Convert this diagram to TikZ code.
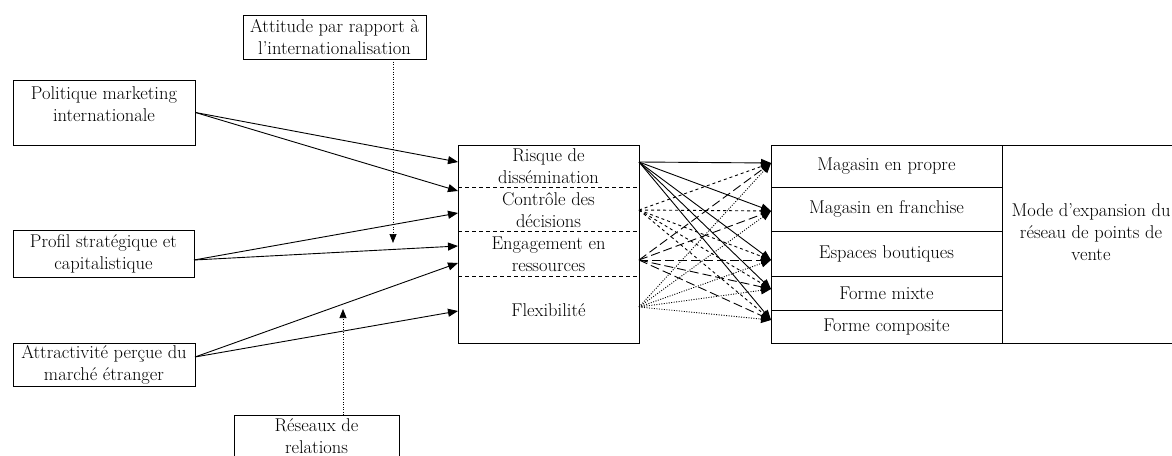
\documentclass[tikz,border=0pt]{standalone}
\usetikzlibrary{arrows.meta}
\begin{document}
\begin{tikzpicture}[x=1pt,y=-1pt,
  font=\fontsize{18.5}{22}\selectfont,
  box/.style={draw, line width=1pt, inner sep=0pt, align=center},
  lbl/.style={inner sep=0pt, align=center},
  arr/.style={line width=0.9pt, -{Triangle[length=10pt,width=8pt]}},
  sdash/.style={arr, dash pattern=on 3pt off 3pt},
  ldash/.style={arr, dash pattern=on 9pt off 4pt},
  dots/.style={arr, dash pattern=on 1pt off 1.5pt},
  dotarr/.style={line width=0.7pt, dash pattern=on 1pt off 1.5pt, -{Triangle[length=9pt,width=7pt]}}]
\useasboundingbox (0,0) rectangle (1172,455);
\clip (0,0) rectangle (1172,455);

% left boxes
\node[box, minimum width=183, minimum height=44] (att) at (334.5,37) {Attitude par rapport à\\l’internationalisation};
\node[box, minimum width=182, minimum height=65] (pol) at (104,112.5) {};
\node[lbl] (polt) at (104,104) {Politique marketing\\internationale};
\node[box, minimum width=181, minimum height=47] (pro) at (103.5,253.5) {Profil stratégique et\\capitalistique};
\node[box, minimum width=182, minimum height=43] (atr) at (104,364.5) {Attractivité perçue du\\marché étranger};
\node[box, minimum width=165, minimum height=50] (res) at (316.5,440) {};
\node[lbl] (rest) at (316.5,436) {Réseaux de\\relations};

% middle box
\node[box, minimum width=181, minimum height=198] (mid) at (548.5,244) {};
\draw[dash pattern=on 4pt off 3pt, line width=0.9pt] (458,187) -- (639,187);
\draw[dash pattern=on 4pt off 3pt, line width=0.9pt] (458,231) -- (639,231);
\draw[dash pattern=on 4pt off 3pt, line width=0.9pt] (458,276) -- (639,276);
\node[lbl] (m1) at (548.5,166) {Risque de\\dissémination};
\node[lbl] (m2) at (548.5,210) {Contrôle des\\décisions};
\node[lbl] (m3) at (548.5,254) {Engagement en\\ressources};
\node[lbl] (m4) at (548.5,310) {Flexibilité};

% right boxes
\node[box, minimum width=231, minimum height=42] (r1) at (886.5,166) {Magasin en propre};
\node[box, minimum width=231, minimum height=44] (r2) at (886.5,209) {Magasin en franchise};
\node[box, minimum width=231, minimum height=45] (r3) at (886.5,253.5) {Espaces boutiques};
\node[box, minimum width=231, minimum height=34] (r4) at (886.5,293) {Forme mixte};
\node[box, minimum width=231, minimum height=33] (r5) at (886.5,326.5) {Forme composite};
\node[box, minimum width=178, minimum height=198] (mode) at (1091,244) {};
\node[lbl] (modet) at (1091,232) {Mode d’expansion du\\réseau de points de\\vente};

% connector coordinates
\coordinate (proS) at (194,260);
\coordinate (atrS) at (195,357);
\coordinate (mL1) at (458,162);
\coordinate (mL2) at (458,191);
\coordinate (mL3) at (458,213);
\coordinate (mL4) at (458,246);
\coordinate (mL5) at (458,263);
\coordinate (mL6) at (458,311);
\coordinate (s1) at (639,162);
\coordinate (s2) at (639,210);
\coordinate (s3) at (639,260);
\coordinate (s4) at (639,307);
\coordinate (t1) at (771,163);
\coordinate (t2) at (771,211);
\coordinate (t3) at (771,260);
\coordinate (t4) at (771,289);
\coordinate (t5) at (771,320);
\coordinate (attS) at (393,59);
\coordinate (attE) at (393,243);
\coordinate (resS) at (343,415);
\coordinate (resE) at (343,309);

% left connectors
\draw[arr] (pol.east) -- (mL1);
\draw[arr] (pol.east) -- (mL2);
\draw[arr] (proS) -- (mL3);
\draw[arr] (proS) -- (mL4);
\draw[arr] (atrS) -- (mL5);
\draw[arr] (atrS) -- (mL6);
\draw[dotarr] (attS) -- (attE);
\draw[dotarr] (resS) -- (resE);

% right connectors
\foreach \t in {t1,t2,t3,t4,t5}{
  \draw[arr] (s1) -- (\t);
  \draw[sdash] (s2) -- (\t);
  \draw[ldash] (s3) -- (\t);
  \draw[dots] (s4) -- (\t);
}
\end{tikzpicture}
\end{document}
